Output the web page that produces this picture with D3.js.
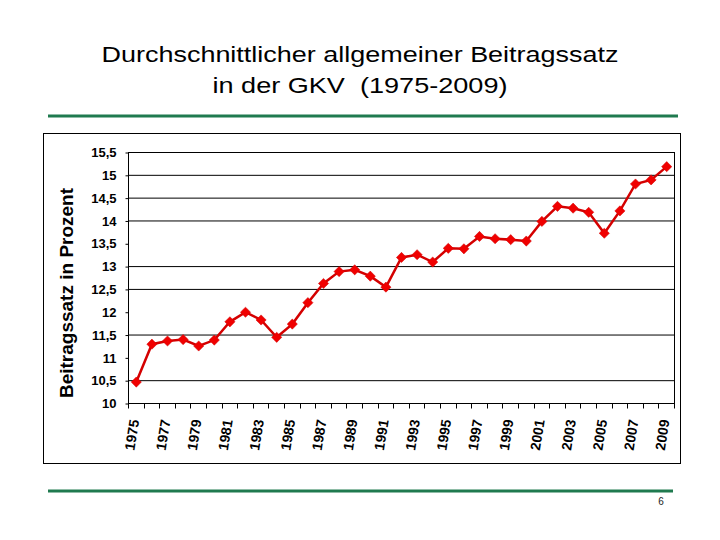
<!DOCTYPE html>
<html>
<head>
<meta charset="utf-8">
<script src="https://cdn.jsdelivr.net/npm/d3@7"></script>
<style>
  body { margin: 0; background: #fff; }
  text { font-family: "Liberation Sans", Arial, sans-serif; }
</style>
</head>
<body>
<svg width="720" height="540"></svg>
<script>
const years = [1975, 1976, 1977, 1978, 1979, 1980, 1981, 1982, 1983, 1984,
  1985, 1986, 1987, 1988, 1989, 1990, 1991, 1992, 1993, 1994,
  1995, 1996, 1997, 1998, 1999, 2000, 2001, 2002, 2003, 2004,
  2005, 2006, 2007, 2008, 2009];

const rates = [10.47, 11.30, 11.37, 11.40, 11.26, 11.39, 11.79, 12.00, 11.83, 11.45,
  11.74, 12.21, 12.63, 12.89, 12.93, 12.79, 12.55, 13.20, 13.26, 13.10,
  13.40, 13.39, 13.66, 13.61, 13.59, 13.56, 13.99, 14.32, 14.28, 14.19,
  13.73, 14.22, 14.81, 14.90, 15.19];

const yTicks = [10, 10.5, 11, 11.5, 12, 12.5, 13, 13.5, 14, 14.5, 15, 15.5];
// gridlines as they appear in the slide (some are missing there)
const gridValues = [10.5, 11.5, 12.5, 13, 14, 14.5, 15];
const xLabelYears = [1975, 1977, 1979, 1981, 1983, 1985, 1987, 1989, 1991, 1993,
  1995, 1997, 1999, 2001, 2003, 2005, 2007, 2009];

const titleLines = ['Durchschnittlicher allgemeiner Beitragssatz', 'in der GKV  (1975-2009)'];
const yLabel = 'Beitragssatz in Prozent';
const pageNumber = '6';

const svg = d3.select('svg');
const width = +svg.attr('width');
const height = +svg.attr('height');

const data = years.map((y, i) => ({year: y, rate: rates[i]}));

const render = data => {
  const margin = {top: 152.5, right: 45.5, bottom: 136.5, left: 128.5};
  const innerWidth = width - margin.left - margin.right;
  const innerHeight = height - margin.top - margin.bottom;
  const green = '#1f7a4f';

  // slide decoration
  svg.append('line')
    .attr('x1', 48).attr('x2', 678).attr('y1', 116).attr('y2', 116)
    .attr('stroke', green).attr('stroke-width', 3);
  svg.append('line')
    .attr('x1', 48).attr('x2', 673).attr('y1', 491).attr('y2', 491)
    .attr('stroke', green).attr('stroke-width', 3);
  svg.append('rect')
    .attr('x', 43.5).attr('y', 133.5).attr('width', 637).attr('height', 330)
    .attr('fill', 'none').attr('stroke', '#000');

  const titleWidths = [517, 295];
  svg.selectAll('text.title').data(titleLines)
    .enter().append('text')
      .attr('class', 'title')
      .attr('x', 360)
      .attr('y', (d, i) => 62 + i * 31)
      .attr('text-anchor', 'middle')
      .attr('font-size', 22)
      .attr('textLength', (d, i) => titleWidths[i])
      .attr('lengthAdjust', 'spacingAndGlyphs')
      .style('white-space', 'pre')
      .text(d => d);

  svg.append('text')
    .attr('x', 661).attr('y', 505)
    .attr('text-anchor', 'middle')
    .attr('font-size', 10)
    .attr('fill', '#222')
    .text(pageNumber);

  const xScale = d3.scaleBand()
    .domain(years)
    .range([0, innerWidth]);

  const yScale = d3.scaleLinear()
    .domain([10, 15.5])
    .range([innerHeight, 0]);

  const xValue = d => xScale(d.year) + xScale.bandwidth() / 2;
  const yValue = d => yScale(d.rate);

  const g = svg.append('g')
    .attr('transform', `translate(${margin.left},${margin.top})`);

  g.selectAll('line.grid').data(gridValues)
    .enter().append('line')
      .attr('class', 'grid')
      .attr('x1', 0).attr('x2', innerWidth)
      .attr('y1', d => yScale(d)).attr('y2', d => yScale(d))
      .attr('stroke', '#000');

  g.append('rect')
    .attr('width', innerWidth).attr('height', innerHeight)
    .attr('fill', 'none').attr('stroke', '#000');

  const yAxis = d3.axisLeft(yScale)
    .tickValues(yTicks)
    .tickSize(3)
    .tickPadding(9)
    .tickFormat(d => String(d).replace('.', ','));

  const yAxisG = g.append('g').call(yAxis);
  yAxisG.select('.domain').remove();
  yAxisG.selectAll('text')
    .attr('font-family', '"Liberation Sans", Arial, sans-serif')
    .attr('font-size', 13)
    .attr('font-weight', 'bold')
    .attr('fill', '#000');

  // x ticks sit on the category boundaries
  const xAxisG = g.append('g')
    .attr('transform', `translate(0,${innerHeight})`);

  xAxisG.selectAll('line.tick').data(years.concat(['end']))
    .enter().append('line')
      .attr('class', 'tick')
      .attr('x1', d => d === 'end' ? innerWidth : Math.round(xScale(d)))
      .attr('x2', d => d === 'end' ? innerWidth : Math.round(xScale(d)))
      .attr('y1', 0).attr('y2', 5)
      .attr('stroke', '#000');

  xAxisG.selectAll('text').data(xLabelYears)
    .enter().append('text')
      .attr('transform', d =>
        `translate(${xScale(d) + xScale.bandwidth() / 2 - 2},16) rotate(-81)`)
      .attr('text-anchor', 'end')
      .attr('dy', '0.35em')
      .attr('font-size', 14)
      .attr('font-weight', 'bold')
      .text(d => d);

  svg.append('text')
    .attr('transform', 'translate(73,293) rotate(-90)')
    .attr('text-anchor', 'middle')
    .attr('font-size', 19)
    .attr('font-weight', 'bold')
    .text(yLabel);

  const line = d3.line()
    .x(xValue)
    .y(yValue);

  g.append('path')
    .datum(data)
    .attr('d', line)
    .attr('fill', 'none')
    .attr('stroke', '#d40000')
    .attr('stroke-width', 2.5);

  const diamond = d3.symbol(d3.symbolSquare, 52);

  g.selectAll('path.marker').data(data)
    .enter().append('path')
      .attr('class', 'marker')
      .attr('d', diamond)
      .attr('transform', d => `translate(${xValue(d)},${yValue(d)}) rotate(45)`)
      .attr('fill', '#f00000')
      .attr('stroke', '#d40000')
      .attr('stroke-width', 0.5);
};

render(data);
</script>
</body>
</html>
